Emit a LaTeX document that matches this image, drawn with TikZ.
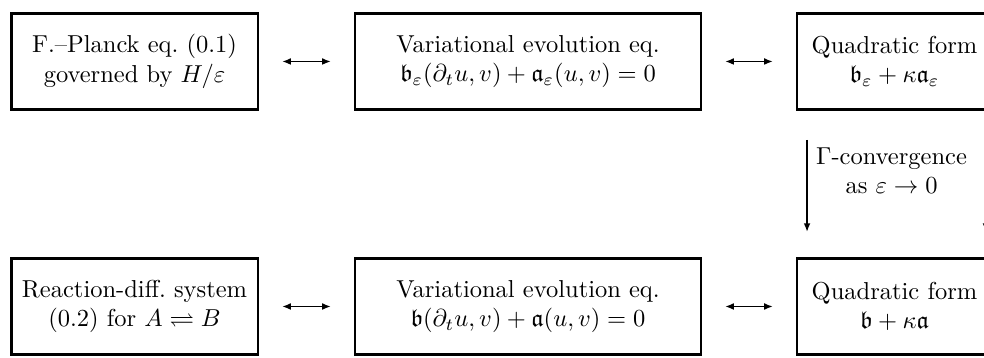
\documentclass[tikz,border=0pt]{standalone}
\usepackage{amssymb}
\usetikzlibrary{arrows.meta}

\begin{document}
\begin{tikzpicture}[>={Latex[length=3.6pt,width=2.8pt]},box/.style={draw,line width=1.2pt,minimum height=1.39cm,align=center,inner sep=2pt},link/.style={<->,thick,shorten <=9.2pt,shorten >=9.2pt},limit/.style={->,thick,shorten <=11.6pt,shorten >=10pt}]
\useasboundingbox (0,0) rectangle (14.117,-5.136);
% upper row: the eps-problem
\node[box,minimum width=3.543cm] (fpe) at (1.930,-0.882) {F.--Planck eq.\ (0.1)\\governed by $H/\varepsilon$};
\node[box,minimum width=4.964cm] (vee) at (7.575,-0.882) {Variational evolution eq.\\$\mathfrak b_\varepsilon(\partial_t u,v)+\mathfrak a_\varepsilon(u,v)=0$};
\node[box,minimum width=2.797cm] (qfe) at (12.833,-0.882) {Quadratic form\\$\mathfrak b_\varepsilon+\kappa\mathfrak a_\varepsilon$};
% lower row: the limit problem
\node[box,minimum width=3.543cm] (rds) at (1.930,-4.397) {Reaction-diff.\ system\\(0.2) for $A\rightleftharpoons B$};
\node[box,minimum width=4.964cm] (ve0) at (7.575,-4.397) {Variational evolution eq.\\$\mathfrak b(\partial_t u,v)+\mathfrak a(u,v)=0$};
\node[box,minimum width=2.797cm] (qf0) at (12.833,-4.397) {Quadratic form\\$\mathfrak b+\kappa\mathfrak a$};
\draw[link] (fpe)--(vee);\draw[link] (vee)--(qfe);
\draw[link] (rds)--(ve0);\draw[link] (ve0)--(qf0);
\draw[limit] ([xshift=0.165cm]qfe.south west)--node[right,align=center,pos=.41] {$\Gamma$-convergence\\as $\varepsilon\to0$}([xshift=0.165cm]qf0.north west);
\draw[limit] ([xshift=-0.108cm]qfe.south east)--([xshift=-0.108cm]qf0.north east);
\end{tikzpicture}
\end{document}
